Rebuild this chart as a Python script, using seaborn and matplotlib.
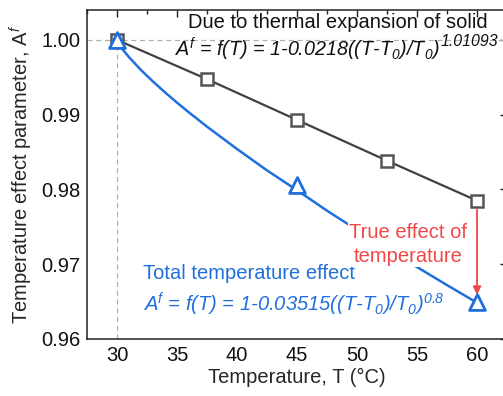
import numpy as np
import pandas as pd
import seaborn as sns
import matplotlib
matplotlib.use("Agg")
import matplotlib.pyplot as plt
from matplotlib.ticker import MultipleLocator

# ---- data ----
solid_T = [30, 37.5, 45, 52.5, 60]
solid_A = [1.0, 0.99475, 0.98930, 0.98385, 0.97850]

total_marker_T = [30, 45, 60]
total_marker_A = [1.0, 0.98060, 0.96490]

curve_T = [30, 30.5, 31, 32, 33, 34, 35, 36, 37.5, 40, 42.5, 45,
           47.5, 50, 52.5, 55, 57.5, 60]
curve_A = [1.0, 0.99867, 0.99769, 0.99597, 0.99443, 0.99299, 0.99161,
           0.99030, 0.98840, 0.98541, 0.98255, 0.97990, 0.97716, 0.97459,
           0.97208, 0.96962, 0.96721, 0.96485]

x_ticks = [30, 35, 40, 45, 50, 55, 60]
y_ticks = [0.96, 0.97, 0.98, 0.99, 1.00]

GRAY = "#404040"
SQ = "#555555"
BLUE = "#1f6fdc"
RED = "#f04848"
FS = 14.5

sns.set_theme(style="white")
plt.rcParams["font.family"] = ["Liberation Sans", "DejaVu Sans"]
plt.rcParams["mathtext.fontset"] = "custom"
plt.rcParams["mathtext.rm"] = "Liberation Sans:italic"
plt.rcParams["mathtext.it"] = "Liberation Sans:italic"
plt.rcParams["mathtext.bf"] = "Liberation Sans:bold"

fig = plt.figure(figsize=(5.03, 3.96), dpi=100)
ax = fig.add_axes([87 / 503, 57 / 396, 420 / 503, 329 / 396])

df_solid = pd.DataFrame({"T": solid_T, "A": solid_A})
df_curve = pd.DataFrame({"T": curve_T, "A": curve_A})
df_mark = pd.DataFrame({"T": total_marker_T, "A": total_marker_A})

# reference dashed lines
ax.axhline(1.0, color="#b0b0b0", lw=0.9, ls=(0, (4, 3)), zorder=1)
ax.plot([30, 30], [0.96, 1.0], color="#b0b0b0", lw=0.9, ls=(0, (4, 3)), zorder=1)

sns.lineplot(data=df_curve, x="T", y="A", ax=ax, color=BLUE, lw=1.8,
             zorder=3, legend=False)
sns.lineplot(data=df_solid, x="T", y="A", ax=ax, color=GRAY, lw=1.6,
             marker="s", markersize=9, markerfacecolor="white",
             markeredgecolor=SQ, markeredgewidth=1.8, zorder=4, legend=False)
sns.scatterplot(data=df_mark, x="T", y="A", ax=ax, marker="^", s=130,
                facecolor="white", edgecolor=BLUE, linewidth=2.0, zorder=6,
                legend=False)

ax.set_xlim(27.5, 62.5)
ax.set_ylim(0.96, 1.004)
ax.set_xticks(x_ticks)
ax.set_yticks(y_ticks)
ax.set_yticklabels([f"{v:.2f}" for v in y_ticks])
ax.xaxis.set_minor_locator(MultipleLocator(2.5))
ax.yaxis.set_minor_locator(MultipleLocator(0.01 / 3))
ax.tick_params(which="both", direction="in", top=True, right=True,
               labelsize=FS, colors="#222222", labelcolor="#111111")
ax.tick_params(which="major", length=5, width=1)
ax.tick_params(which="minor", length=3, width=1)
ax.tick_params(axis="y", pad=5)
ax.tick_params(axis="x", pad=5)
for s in ax.spines.values():
    s.set_color("#222222")
    s.set_linewidth(1.1)

ax.set_xlabel("Temperature, T (°C)", fontsize=FS, labelpad=2)
ax.set_ylabel("Temperature effect parameter, A$^f$", fontsize=FS, labelpad=4)

# annotations
ax.text(0.955, 0.962, "Due to thermal expansion of solid",
        transform=ax.transAxes, fontsize=FS, color="#111111",
        ha="right", va="center")
body = ax.text(0.2095, 0.880,
               "A$^f$ = f(T) = 1-0.0218((T-T$_0$)/T$_0$)",
               transform=ax.transAxes, fontsize=14.2, color="#111111",
               style="italic", ha="left", va="center")
ax.annotate("1.01093", xy=(1.0, 0.904), xycoords=(body, "axes fraction"),
            xytext=(1, 0), textcoords="offset points",
            fontsize=11.4, color="#111111", style="italic",
            ha="left", va="center")

ax.text(54.25, 0.97265, "True effect of\ntemperature", fontsize=FS, color=RED,
        ha="center", va="center", linespacing=1.3, zorder=5,
        bbox=dict(facecolor="white", edgecolor="none", pad=1.0))
ax.annotate("", xy=(60, 0.9659), xytext=(60, 0.9773),
            arrowprops=dict(arrowstyle="-|>", color=RED, lw=1.3,
                            mutation_scale=12, shrinkA=0, shrinkB=0),
            zorder=5)

ax.text(32.2, 0.9688, "Total temperature effect", fontsize=FS, color=BLUE,
        ha="left", va="center")
ax.text(32.2, 0.9646,
        "A$^f$ = f(T) = 1-0.03515((T-T$_0$)/T$_0$)$^{0.8}$",
        fontsize=FS, color=BLUE, style="italic", ha="left", va="center")

fig.savefig("out.png", dpi=100)
